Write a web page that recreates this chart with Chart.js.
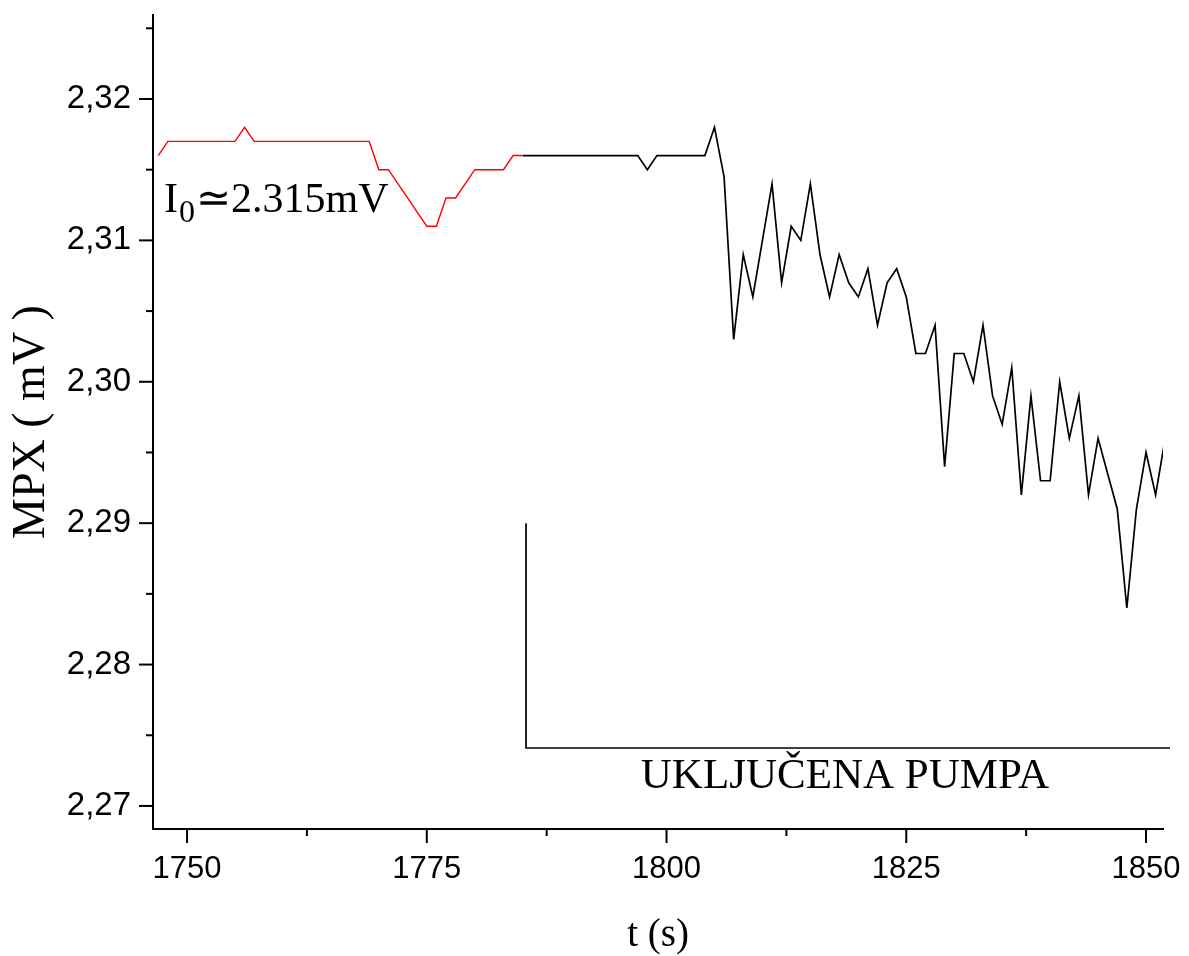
<!DOCTYPE html>
<html lang="sr">
<head>
    <meta charset="UTF-8">
    <title>MPX - t</title>
    <script src="https://cdn.jsdelivr.net/npm/chart.js"></script>
    <style>
        html, body { margin: 0; padding: 0; background: #fff; }
        #chart-container { width: 1189px; height: 956px; position: relative; }
    </style>
</head>
<body>
<div id="chart-container">
    <canvas id="myChart"></canvas>
</div>
<script>
// Reference level before the pump (red part)
const redTimes = [1747, 1748, 1749, 1750, 1751, 1752, 1753, 1754, 1755, 1756,
    1757, 1758, 1759, 1760, 1761, 1762, 1763, 1764, 1765, 1766,
    1767, 1768, 1769, 1770, 1771, 1772, 1773, 1774, 1775, 1776,
    1777, 1778, 1779, 1780, 1781, 1782, 1783, 1784, 1785]
const redValues = [2.316, 2.317, 2.317, 2.317, 2.317, 2.317, 2.317, 2.317, 2.317, 2.318,
    2.317, 2.317, 2.317, 2.317, 2.317, 2.317, 2.317, 2.317, 2.317, 2.317,
    2.317, 2.317, 2.317, 2.315, 2.315, 2.314, 2.313, 2.312, 2.311, 2.311,
    2.313, 2.313, 2.314, 2.315, 2.315, 2.315, 2.315, 2.316, 2.316]

// Signal after that (black part)
const blackTimes = [1785, 1786, 1787, 1788, 1789, 1790, 1791, 1792, 1793, 1794,
    1795, 1796, 1797, 1798, 1799, 1800, 1801, 1802, 1803, 1804,
    1805, 1806, 1807, 1808, 1809, 1810, 1811, 1812, 1813, 1814,
    1815, 1816, 1817, 1818, 1819, 1820, 1821, 1822, 1823, 1824,
    1825, 1826, 1827, 1828, 1829, 1830, 1831, 1832, 1833, 1834,
    1835, 1836, 1837, 1838, 1839, 1840, 1841, 1842, 1843, 1844,
    1845, 1846, 1847, 1848, 1849, 1850, 1851, 1852]
const blackValues = [2.316, 2.316, 2.316, 2.316, 2.316, 2.316, 2.316, 2.316, 2.316, 2.316,
    2.316, 2.316, 2.316, 2.315, 2.316, 2.316, 2.316, 2.316, 2.316, 2.316,
    2.318, 2.3145, 2.303, 2.309, 2.306, 2.310, 2.314, 2.307, 2.311, 2.310,
    2.314, 2.309, 2.306, 2.309, 2.307, 2.306, 2.308, 2.304, 2.307, 2.308,
    2.306, 2.302, 2.302, 2.304, 2.294, 2.302, 2.302, 2.300, 2.304, 2.299,
    2.297, 2.301, 2.292, 2.299, 2.293, 2.293, 2.300, 2.296, 2.299, 2.292,
    2.296, 2.2935, 2.291, 2.284, 2.291, 2.295, 2.292, 2.296]

// Bracket marking the pump interval
const bracketTimes = [1785.35, 1785.35, 1852.5, 1852.5]
const bracketValues = [2.29, 2.2741, 2.2741, 2.29]

// Axes
const xMin = 1746.45, xMax = 1851.77
const yMin = 2.26837, yMax = 2.32594
const xMajorTicks = [1750, 1775, 1800, 1825, 1850]
const xMinorTicks = [1762.5, 1787.5, 1812.5, 1837.5]
const yMajorTicks = [2.27, 2.28, 2.29, 2.30, 2.31, 2.32]
const yTickLabels = ["2,27", "2,28", "2,29", "2,30", "2,31", "2,32"]
const yMinorTicks = [2.275, 2.285, 2.295, 2.305, 2.315, 2.325]

const toPoints = (xs, ys) => xs.map((t, i) => ({ x: t, y: ys[i] }))

// keep the plot box fixed: no extra room for label overhang
function noLabelPadding(scale) {
    scale.paddingTop = 0
    scale.paddingBottom = 0
    scale.paddingLeft = 0
    scale.paddingRight = 0
}

// Draws the outward tick marks and the two text notes
const extrasPlugin = {
    id: "extras",
    afterDraw(chart) {
        const { ctx, chartArea, scales } = chart
        const x = scales.x, y = scales.y
        ctx.save()
        ctx.strokeStyle = "#000"
        ctx.lineWidth = 2
        const tick = (x1, y1, x2, y2) => {
            ctx.beginPath()
            ctx.moveTo(x1, y1)
            ctx.lineTo(x2, y2)
            ctx.stroke()
        }
        xMajorTicks.forEach(v => { const p = x.getPixelForValue(v); tick(p, chartArea.bottom, p, chartArea.bottom + 14) })
        xMinorTicks.forEach(v => { const p = x.getPixelForValue(v); tick(p, chartArea.bottom, p, chartArea.bottom + 7) })
        yMajorTicks.forEach(v => { const p = y.getPixelForValue(v); tick(chartArea.left - 14, p, chartArea.left, p) })
        yMinorTicks.forEach(v => { const p = y.getPixelForValue(v); tick(chartArea.left - 7, p, chartArea.left, p) })

        // I0 note
        ctx.fillStyle = "#000"
        ctx.textBaseline = "alphabetic"
        ctx.textAlign = "left"
        let tx = x.getPixelForValue(1747.6)
        const ty = y.getPixelForValue(2.3120)
        ctx.font = "42px 'Liberation Serif'"
        ctx.fillText("I", tx, ty)
        tx += ctx.measureText("I").width + 1
        ctx.font = "32px 'Liberation Serif'"
        ctx.fillText("0", tx, ty + 10)
        tx += ctx.measureText("0").width + 1
        ctx.font = "42px 'Liberation Serif'"
        ctx.fillText("\u22432.315mV", tx, ty)

        // pump note
        ctx.textAlign = "center"
        ctx.textBaseline = "middle"
        ctx.font = "43px 'Liberation Serif'"
        ctx.fillText("UKLJUČENA PUMPA", x.getPixelForValue(1818.6), y.getPixelForValue(2.2721))
        ctx.restore()
    }
}

new Chart(document.getElementById("myChart"), {
    type: "line",
    data: {
        datasets: [
            {
                data: toPoints(redTimes, redValues),
                borderColor: "#ff0000",
                borderWidth: 1.4,
                pointRadius: 0,
                tension: 0,
                clip: 0
            },
            {
                data: toPoints(blackTimes, blackValues),
                borderColor: "#000000",
                borderWidth: 1.7,
                pointRadius: 0,
                tension: 0,
                clip: 0
            },
            {
                data: toPoints(bracketTimes, bracketValues),
                borderColor: "#000000",
                borderWidth: 1.7,
                pointRadius: 0,
                tension: 0,
                clip: false
            }
        ]
    },
    options: {
        responsive: true,
        maintainAspectRatio: false,
        devicePixelRatio: 1,
        animation: false,
        layout: { padding: { top: 15, right: 26, left: 0, bottom: 0 } },
        plugins: {
            legend: { display: false },
            tooltip: { enabled: false }
        },
        scales: {
            x: {
                type: "linear",
                min: xMin,
                max: xMax,
                grid: { display: false, drawTicks: false },
                border: { display: true, color: "#000", width: 2 },
                afterFit: scale => { scale.height = 127; noLabelPadding(scale) },
                afterBuildTicks: scale => { scale.ticks = xMajorTicks.map(v => ({ value: v })) },
                ticks: {
                    color: "#000",
                    padding: 22,
                    maxRotation: 0,
                    font: { family: "'Liberation Sans'", size: 31 },
                    callback: v => String(v)
                },
                title: {
                    display: true,
                    text: "t (s)",
                    color: "#000",
                    font: { family: "'Liberation Serif'", size: 39, lineHeight: 1.0 },
                    padding: { top: 0, bottom: 1 }
                }
            },
            y: {
                type: "linear",
                min: yMin,
                max: yMax,
                grid: { display: false, drawTicks: false },
                border: { display: true, color: "#000", width: 2 },
                afterFit: scale => { scale.width = 153; noLabelPadding(scale) },
                afterBuildTicks: scale => { scale.ticks = yMajorTicks.map(v => ({ value: v })) },
                ticks: {
                    color: "#000",
                    padding: 22,
                    font: { family: "'Liberation Sans'", size: 33 },
                    callback: (v, i) => yTickLabels[i]
                },
                title: {
                    display: true,
                    text: "MPX ( mV )",
                    color: "#000",
                    font: { family: "'Liberation Serif'", size: 46, lineHeight: 1.2 },
                    padding: { top: 4, bottom: 0 }
                }
            }
        }
    },
    plugins: [extrasPlugin]
})
</script>
</body>
</html>
